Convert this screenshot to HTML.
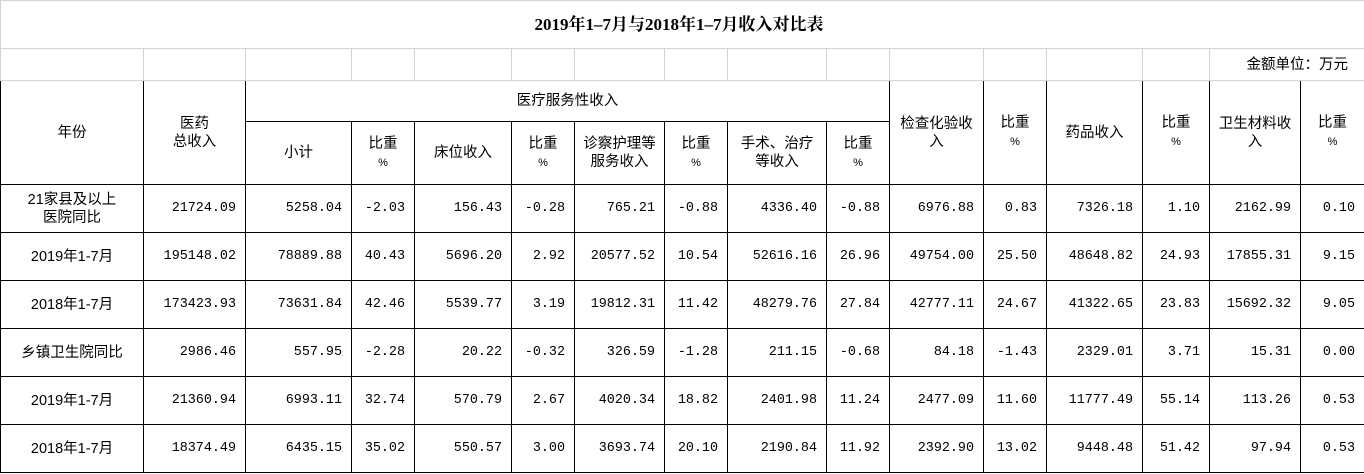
<!DOCTYPE html>
<html><head><meta charset="utf-8"><style>
body{margin:0;width:1364px;height:474px;background:#fff;overflow:hidden}
table{border-collapse:collapse;table-layout:fixed;width:1364px;font-family:"Liberation Mono","Noto Sans CJK SC",monospace;font-size:13.4px;color:#000}
td{padding:0 9px 0 2px;overflow:hidden;white-space:nowrap;line-height:18px}
.g td{border:1px solid #d4d4d4}
.b td{border:1px solid #000}
.t td{font-family:"Liberation Serif","Noto Serif CJK SC",serif;font-weight:bold;font-size:17px;text-align:center}
.c{text-align:center;padding:0}
.r{text-align:right}
.h td{text-align:center;padding:0;white-space:normal;font-family:"Liberation Sans","Noto Sans CJK SC",sans-serif;font-size:14.5px}
.h small{font-size:11px}
.d td.c{font-family:"Liberation Sans","Noto Sans CJK SC",sans-serif;font-size:14.5px}
.d td{height:47px}
</style></head><body>
<table>
<colgroup><col style="width:143px"><col style="width:102px"><col style="width:106px"><col style="width:63px"><col style="width:97px"><col style="width:63px"><col style="width:90px"><col style="width:63px"><col style="width:99px"><col style="width:63px"><col style="width:94px"><col style="width:63px"><col style="width:96px"><col style="width:67px"><col style="width:91px"><col style="width:64px"></colgroup>
<tr class="g t"><td colspan="16" style="height:47px">2019年1–7月与2018年1–7月收入对比表</td></tr>
<tr class="g"><td style="height:31px"></td><td></td><td></td><td></td><td></td><td></td><td></td><td></td><td></td><td></td><td></td><td></td><td></td><td></td><td colspan="2" class="r" style="font-family:'Liberation Sans','Noto Sans CJK SC',sans-serif;font-size:14.5px;padding-right:16px">金额单位：万元</td></tr>
<tr class="b h"><td rowspan="2">年份</td><td rowspan="2">医药<br>总收入</td><td colspan="8" style="height:40px">医疗服务性收入</td><td rowspan="2">检查化验收<br>入</td><td rowspan="2">比重<br><small>%</small></td><td rowspan="2">药品收入</td><td rowspan="2">比重<br><small>%</small></td><td rowspan="2">卫生材料收<br>入</td><td rowspan="2">比重<br><small>%</small></td></tr>
<tr class="b h"><td style="height:62px">小计</td><td>比重<br><small>%</small></td><td>床位收入</td><td>比重<br><small>%</small></td><td>诊察护理等<br>服务收入</td><td>比重<br><small>%</small></td><td>手术、治疗<br>等收入</td><td>比重<br><small>%</small></td></tr>
<tr class="b d"><td class="c">21家县及以上<br>医院同比</td><td class="r">21724.09</td><td class="r">5258.04</td><td class="r">-2.03</td><td class="r">156.43</td><td class="r">-0.28</td><td class="r">765.21</td><td class="r">-0.88</td><td class="r">4336.40</td><td class="r">-0.88</td><td class="r">6976.88</td><td class="r">0.83</td><td class="r">7326.18</td><td class="r">1.10</td><td class="r">2162.99</td><td class="r">0.10</td></tr>
<tr class="b d"><td class="c">2019年1-7月</td><td class="r">195148.02</td><td class="r">78889.88</td><td class="r">40.43</td><td class="r">5696.20</td><td class="r">2.92</td><td class="r">20577.52</td><td class="r">10.54</td><td class="r">52616.16</td><td class="r">26.96</td><td class="r">49754.00</td><td class="r">25.50</td><td class="r">48648.82</td><td class="r">24.93</td><td class="r">17855.31</td><td class="r">9.15</td></tr>
<tr class="b d"><td class="c">2018年1-7月</td><td class="r">173423.93</td><td class="r">73631.84</td><td class="r">42.46</td><td class="r">5539.77</td><td class="r">3.19</td><td class="r">19812.31</td><td class="r">11.42</td><td class="r">48279.76</td><td class="r">27.84</td><td class="r">42777.11</td><td class="r">24.67</td><td class="r">41322.65</td><td class="r">23.83</td><td class="r">15692.32</td><td class="r">9.05</td></tr>
<tr class="b d"><td class="c">乡镇卫生院同比</td><td class="r">2986.46</td><td class="r">557.95</td><td class="r">-2.28</td><td class="r">20.22</td><td class="r">-0.32</td><td class="r">326.59</td><td class="r">-1.28</td><td class="r">211.15</td><td class="r">-0.68</td><td class="r">84.18</td><td class="r">-1.43</td><td class="r">2329.01</td><td class="r">3.71</td><td class="r">15.31</td><td class="r">0.00</td></tr>
<tr class="b d"><td class="c">2019年1-7月</td><td class="r">21360.94</td><td class="r">6993.11</td><td class="r">32.74</td><td class="r">570.79</td><td class="r">2.67</td><td class="r">4020.34</td><td class="r">18.82</td><td class="r">2401.98</td><td class="r">11.24</td><td class="r">2477.09</td><td class="r">11.60</td><td class="r">11777.49</td><td class="r">55.14</td><td class="r">113.26</td><td class="r">0.53</td></tr>
<tr class="b d"><td class="c">2018年1-7月</td><td class="r">18374.49</td><td class="r">6435.15</td><td class="r">35.02</td><td class="r">550.57</td><td class="r">3.00</td><td class="r">3693.74</td><td class="r">20.10</td><td class="r">2190.84</td><td class="r">11.92</td><td class="r">2392.90</td><td class="r">13.02</td><td class="r">9448.48</td><td class="r">51.42</td><td class="r">97.94</td><td class="r">0.53</td></tr>
</table>
</body></html>
